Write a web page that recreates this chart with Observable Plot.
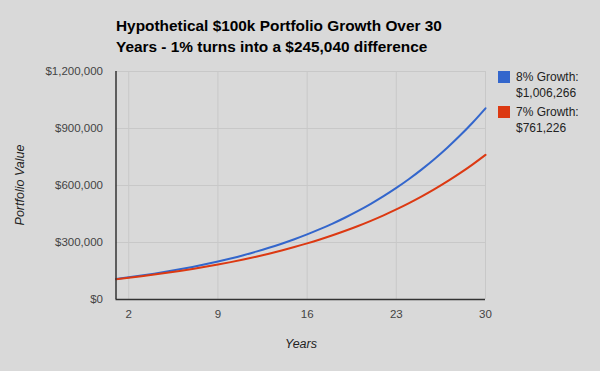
<!DOCTYPE html>
<html>
<head>
<meta charset="utf-8">
<script src="https://cdn.jsdelivr.net/npm/d3@7"></script>
<script src="https://cdn.jsdelivr.net/npm/@observablehq/plot@0.6"></script>
<style>
  html, body { margin: 0; padding: 0; background: #d9d9d9; }
  #wrap { position: relative; width: 600px; height: 371px; background: #d9d9d9; overflow: hidden; font-family: Arial, "Liberation Sans", sans-serif; }
  #wrap svg { position: absolute; left: 0; top: 0; }
  .title { position: absolute; left: 116px; top: 15px; font-size: 15.4px; font-weight: bold; color: #000; line-height: 21px; white-space: nowrap; }
  .leg { position: absolute; left: 498px; font-size: 12px; color: #222; line-height: 16px; }
  .sw { position: absolute; left: 0; top: 0; width: 12px; height: 12px; }
  .lt { position: absolute; left: 18px; top: -2.5px; white-space: nowrap; }
  .ylab { position: absolute; left: 20px; top: 185px; transform: translate(-50%, -50%) rotate(-90deg); font-size: 12.5px; font-style: italic; color: #222; white-space: nowrap; }
  .xlab { position: absolute; left: 301px; top: 344px; transform: translate(-50%, -50%); font-size: 12.5px; font-style: italic; color: #222; white-space: nowrap; }
</style>
</head>
<body>
<div id="wrap">
  <div class="title">Hypothetical $100k Portfolio Growth Over 30<br>Years - 1% turns into a $245,040 difference</div>
  <div class="ylab">Portfolio Value</div>
  <div class="xlab">Years</div>
</div>
<script>
const years = [1,2,3,4,5,6,7,8,9,10,11,12,13,14,15,16,17,18,19,20,21,22,23,24,25,26,27,28,29,30];
const growth8 = [108000,116640,125971,136049,146933,158687,171382,185093,199900,215892,233164,251817,271962,293719,317217,342594,370002,399602,431570,466096,503383,543654,587146,634118,684848,739635,798806,862711,931727,1006266];
const growth7 = [107000,114490,122504,131080,140255,150073,160578,171819,183846,196715,210485,225219,240985,257853,275903,295216,315882,337993,361653,386968,414056,443040,474053,507237,542743,580735,621387,664884,711426,761226];
const seriesNames = ["8% Growth:", "7% Growth:"];
const seriesFinal = ["$1,006,266", "$761,226"];
const seriesColors = ["#3366cc", "#dc3912"];
const xTicks = [2, 9, 16, 23, 30];
const yTicks = [0, 300000, 600000, 900000, 1200000];

const rows = [];
years.forEach((y, i) => {
  rows.push({year: y, value: growth8[i], series: seriesNames[0]});
  rows.push({year: y, value: growth7[i], series: seriesNames[1]});
});

const chart = Plot.plot({
  width: 600,
  height: 371,
  marginLeft: 115.5,
  marginRight: 115,
  marginTop: 71,
  marginBottom: 72,
  style: { background: "transparent", fontFamily: "Arial, 'Liberation Sans', sans-serif", fontSize: "11.5px", color: "#444" },
  x: { domain: [1, 30], ticks: xTicks, label: null },
  y: { domain: [0, 1200000], ticks: yTicks, label: null },
  color: { domain: seriesNames, range: seriesColors },
  marks: [
    Plot.gridY(yTicks, { stroke: "#c8c8c8", strokeOpacity: 1 }),
    Plot.gridX(xTicks, { stroke: "#c8c8c8", strokeOpacity: 1 }),
    Plot.axisY(yTicks, { tickSize: 0, tickPadding: 13, tickFormat: d3.format("$,"), fill: "#444" }),
    Plot.axisX(xTicks, { tickSize: 0, tickPadding: 10, fill: "#444" }),
    Plot.line(rows, { x: "year", y: "value", z: "series", stroke: "series", strokeWidth: 2, curve: "monotone-x" }),
    Plot.ruleX([1], { stroke: "#333", strokeWidth: 1.5 }),
    Plot.ruleY([0], { stroke: "#333", strokeWidth: 1.5 })
  ]
});
const wrap = document.getElementById("wrap");
wrap.insertBefore(chart, wrap.firstChild);

seriesNames.forEach((name, i) => {
  const d = document.createElement("div");
  d.className = "leg";
  d.style.top = (71 + i * 35) + "px";
  d.innerHTML = `<div class="sw" style="background:${seriesColors[i]}"></div><div class="lt">${name}<br>${seriesFinal[i]}</div>`;
  wrap.appendChild(d);
});
</script>
</body>
</html>
